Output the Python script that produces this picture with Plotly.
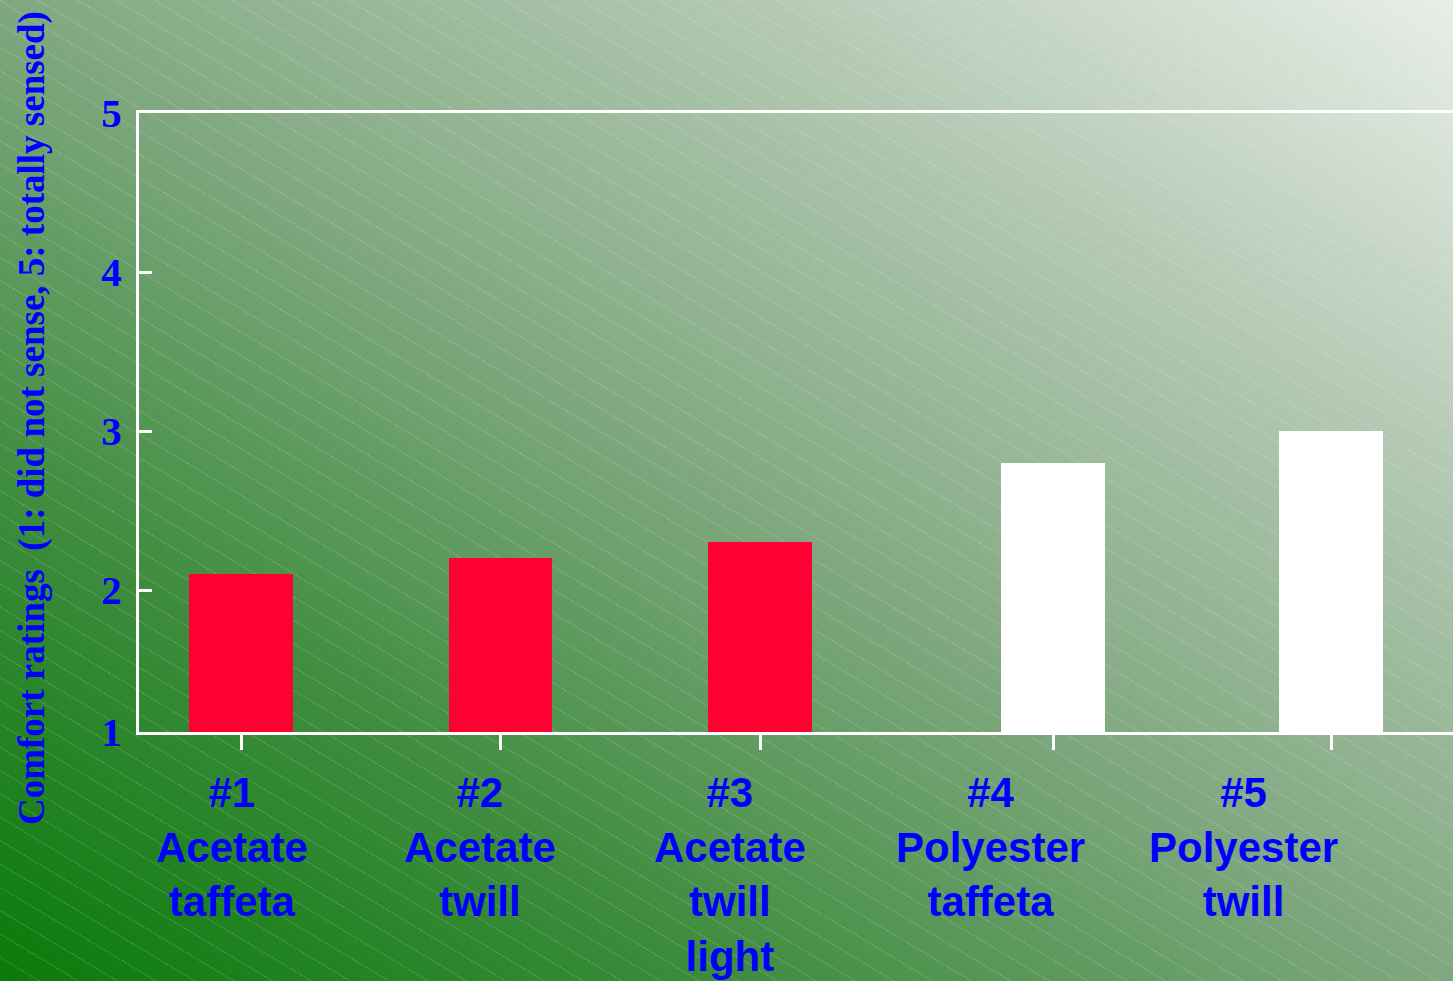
import base64
import plotly.graph_objects as go

# ---- data ----
categories = ["#1<br>Acetate<br>taffeta",
              "#2<br>Acetate<br>twill",
              "#3<br>Acetate<br>twill<br>light",
              "#4<br>Polyester<br>taffeta",
              "#5<br>Polyester<br>twill"]
ratings = [2.1, 2.2, 2.3, 2.8, 3.0]
y_tick_vals = [1.107, 2, 3, 4, 5]
y_tick_text = ["1", "2", "3", "4", "5"]
y_title = "Comfort ratings\u00a0 (1: did not sense, 5: totally sensed)"

# ---- layout constants ----
W, H = 1453, 981
ML, MR, MT, MB = 139, 0, 113, 249
PW, PH = W - ML - MR, H - MT - MB
bar_pos = [1, 2, 3, 4.13, 5.2]
label_shift = [-0.035, -0.079, -0.116, -0.244, -0.339]
bar_colors = ["#ff0033", "#ff0033", "#ff0033", "#ffffff", "#ffffff"]
BLUE = "#0000ff"

svg = f'''<svg xmlns="http://www.w3.org/2000/svg" width="{W}" height="{H}" viewBox="0 0 {W} {H}" preserveAspectRatio="none">
<defs>
<linearGradient id="g" x1="0" y1="1" x2="1" y2="0">
<stop offset="0" stop-color="#0a7a0a"/>
<stop offset="0.25" stop-color="#3d8c3d"/>
<stop offset="0.5" stop-color="#80a880"/>
<stop offset="0.75" stop-color="#b2c8b2"/>
<stop offset="1" stop-color="#e8eee8"/>
</linearGradient>
<pattern id="p" width="40" height="20" patternUnits="userSpaceOnUse" patternTransform="rotate(31)">
<line x1="0" y1="0.5" x2="40" y2="0.5" stroke="#ffffff" stroke-opacity="0.28" stroke-width="1" stroke-dasharray="1.5 1.5"/>
</pattern>
</defs>
<rect x="0" y="0" width="{W}" height="{H}" fill="url(#g)"/>
<rect x="0" y="0" width="{W}" height="{H}" fill="url(#p)"/>
</svg>'''
bg_src = "data:image/svg+xml;base64," + base64.b64encode(svg.encode()).decode()

fig = go.Figure()
fig.add_trace(go.Bar(x=bar_pos, y=ratings, width=0.4,
                     marker=dict(color=bar_colors, line=dict(width=0)),
                     hoverinfo="skip"))

annotations = []
for xp, sh, lab in zip(bar_pos, label_shift, categories):
    annotations.append(dict(x=xp + sh, xref="x", y=-35 / PH, yref="paper",
                            yanchor="top", xanchor="center", text=lab,
                            showarrow=False, align="center",
                            font=dict(family="Liberation Sans, Arial", size=42,
                                      color=BLUE, weight="bold")))
annotations.append(dict(x=(32 - ML) / PW, xref="paper", y=(MT + PH - 418) / PH,
                        yref="paper", xanchor="center", yanchor="middle",
                        text=y_title, textangle=-90, showarrow=False,
                        font=dict(family="Liberation Serif, Times New Roman", size=37,
                                  color=BLUE, weight="bold")))

fig.update_layout(
    width=W, height=H, margin=dict(l=ML, r=MR, t=MT, b=MB, autoexpand=False),
    paper_bgcolor="#5f9a5f", plot_bgcolor="rgba(0,0,0,0)",
    showlegend=False, bargap=0,
    images=[dict(source=bg_src, xref="paper", yref="paper",
                 x=-ML / PW, y=1 + MT / PH, sizex=W / PW, sizey=H / PH,
                 xanchor="left", yanchor="top", sizing="stretch", layer="below")],
    xaxis=dict(range=[0.607, 5.67], tickvals=bar_pos, ticktext=[""] * 5,
               ticks="outside", ticklen=15, tickwidth=3, tickcolor="#ffffff",
               showline=True, linecolor="#ffffff", linewidth=3, mirror=True,
               showgrid=False, zeroline=False, layer="below traces",
               fixedrange=True),
    yaxis=dict(range=[1.107, 5], tickvals=y_tick_vals, ticktext=y_tick_text,
               ticks="inside", ticklen=13, tickwidth=3, tickcolor="#ffffff",
               showline=True, linecolor="#ffffff", linewidth=3,
               showgrid=False, zeroline=False, ticklabelstandoff=6,
               tickfont=dict(family="Liberation Serif, Times New Roman", size=41,
                             color=BLUE, weight="bold"),
               fixedrange=True),
    annotations=annotations,
)

fig.write_html("out.html", config={"displayModeBar": False},
               post_script="document.body.style.margin='0';document.body.style.overflow='hidden';")
